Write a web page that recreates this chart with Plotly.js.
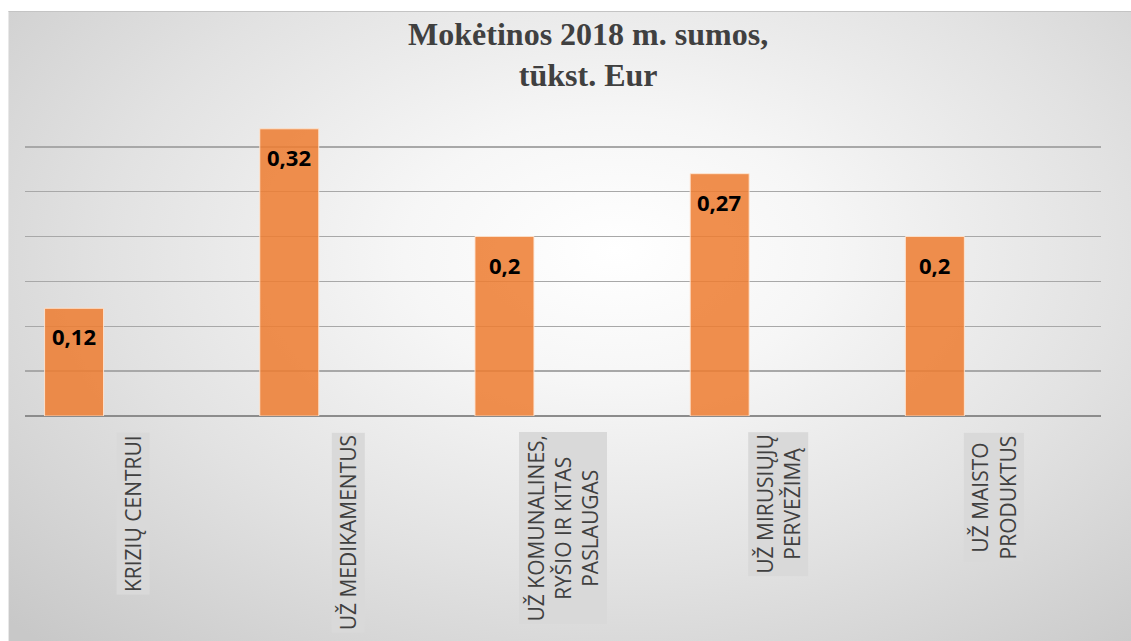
<!DOCTYPE html>
<html>
<head>
<meta charset="utf-8">
<script src="https://cdn.plot.ly/plotly-3.0.1.min.js"></script>
<style>
  html, body { margin: 0; padding: 0; background: #ffffff; }
  #wrap { position: relative; width: 1131px; height: 641px; overflow: hidden; }
  #bg { position: absolute; left: 8px; top: 11px; right: 0; bottom: 0;
        background: radial-gradient(ellipse 75% 85% at 54% 38%, #ffffff 0%, #f6f6f6 25%, #e2e2e2 60%, #c8c8c8 100%);
        border-top: 1px solid #c4c4c4; border-left: 1px solid #e8e8e8; }
  #chart { position: absolute; left: 0; top: 0; width: 1131px; height: 641px; }
</style>
</head>
<body>
<div id="wrap">
  <div id="bg"></div>
  <div id="chart"></div>
</div>
<script>
const categories = [
  "KRIZIŲ CENTRUI",
  "UŽ MEDIKAMENTUS",
  "UŽ KOMUNALINES,<br>RYŠIO IR KITAS<br>PASLAUGAS",
  "UŽ MIRUSIŲJŲ<br>PERVEŽIMĄ",
  "UŽ MAISTO<br>PRODUKTUS"
];
const values = [0.12, 0.32, 0.2, 0.27, 0.2];
const valueLabels = values.map(v => String(v).replace('.', ','));
const titleText = "Mokėtinos 2018 m. sumos,<br>tūkst. Eur";

const xIdx = categories.map((c, i) => i);

const barTrace = {
  type: 'bar',
  x: xIdx,
  y: values,
  width: 0.274,
  offset: -0.409,
  marker: { color: 'rgba(237,125,49,0.86)', line: { color: 'rgba(255,230,210,0.9)', width: 1 } },
  hoverinfo: 'skip',
  showlegend: false
};

const annotations = [];
values.forEach((v, i) => {
  annotations.push({
    x: i, y: v, xref: 'x', yref: 'y',
    text: valueLabels[i], showarrow: false,
    xshift: -59, yshift: -28, yanchor: 'middle', xanchor: 'center',
    font: { family: 'Open Sans, sans-serif', size: 22, color: '#000000', weight: 'bold' }
  });
});
categories.forEach((c, i) => {
  annotations.push({
    x: i, y: 0, xref: 'x', yref: 'y',
    text: c, showarrow: false, textangle: -90,
    yanchor: 'top', xanchor: 'center', yshift: -16, align: 'center',
    bgcolor: '#d9d9d9', borderpad: 2,
    font: { family: 'Open Sans, sans-serif', size: 21, color: '#404040' }
  });
});

const layout = {
  width: 1131, height: 641,
  paper_bgcolor: 'rgba(0,0,0,0)',
  plot_bgcolor: 'rgba(0,0,0,0)',
  margin: { l: 25, r: 30, t: 101, b: 225 },
  title: {
    text: titleText,
    x: 0.52, xanchor: 'center', y: 0.93, yanchor: 'middle',
    font: { family: 'Liberation Serif, Times New Roman, serif', size: 32, color: '#404040', weight: 'bold' }
  },
  xaxis: {
    range: [-0.5, 4.5], showticklabels: false, showgrid: false, zeroline: false,
    ticks: '', showline: false, fixedrange: true
  },
  yaxis: {
    range: [0, 0.351], dtick: 0.05, tick0: 0, showticklabels: false,
    showgrid: true, gridcolor: '#a8a8a8', gridwidth: 1.5,
    zeroline: true, zerolinecolor: '#8c8c8c', zerolinewidth: 1.5,
    ticks: '', showline: false, fixedrange: true
  },
  annotations: annotations,
  showlegend: false
};

Plotly.newPlot('chart', [barTrace], layout, { displayModeBar: false, staticPlot: true });
</script>
</body>
</html>
